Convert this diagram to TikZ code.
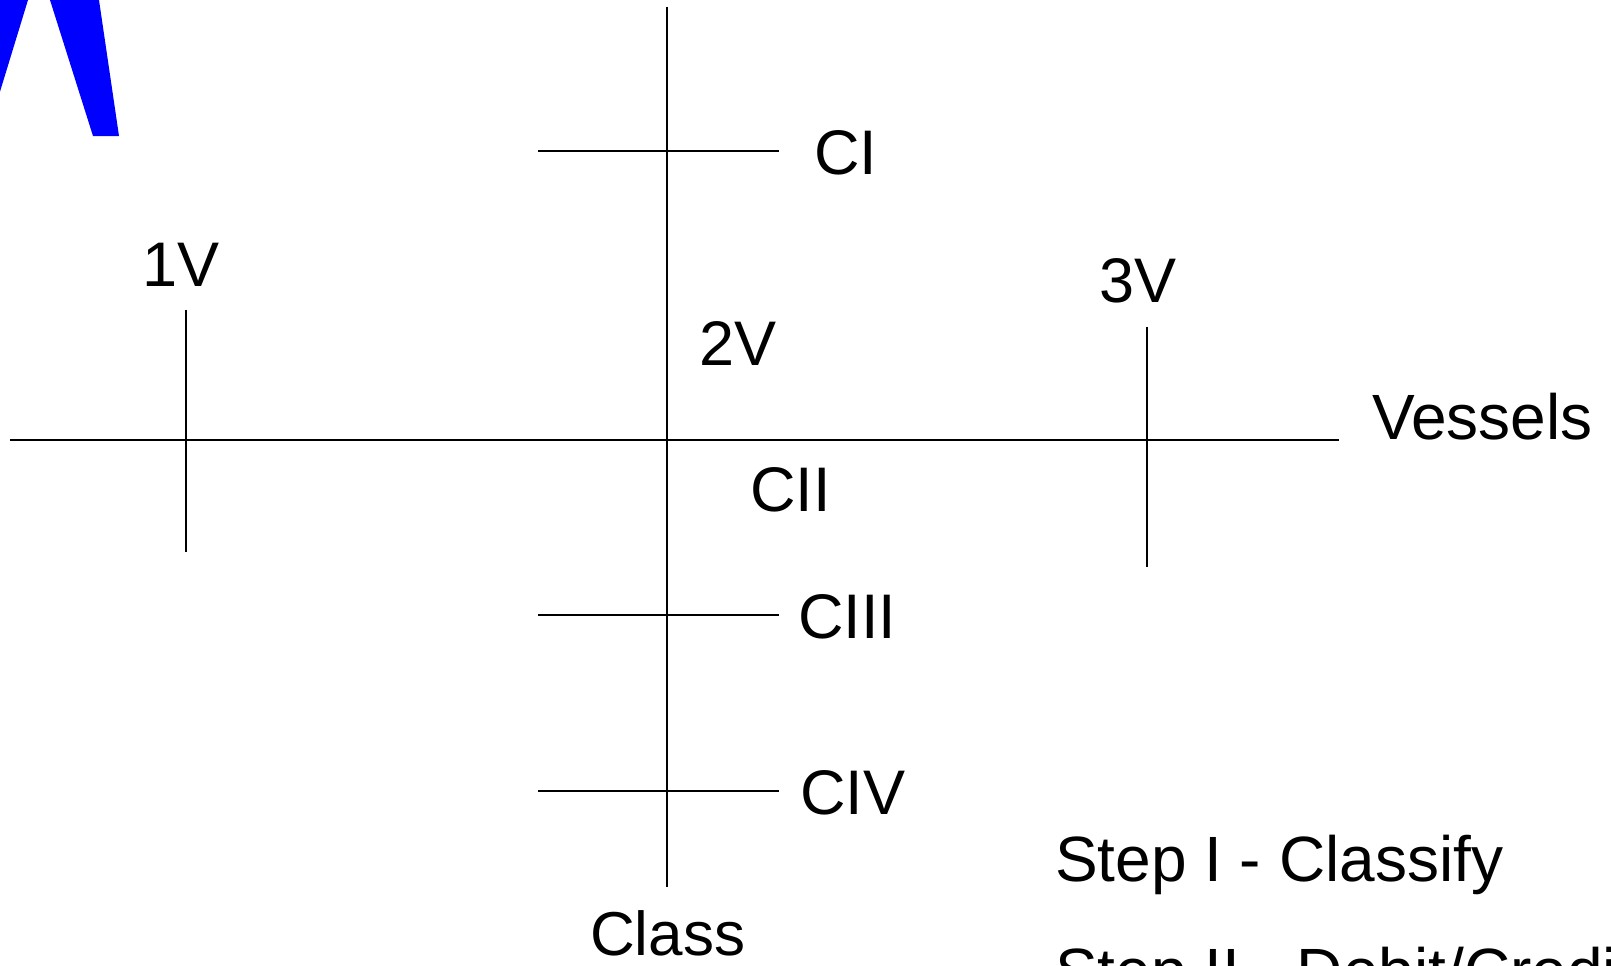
\documentclass[tikz,border=0pt]{standalone}
\usepackage{fontspec}
\setmainfont{Liberation Sans}
\begin{document}
\begin{tikzpicture}[x=1pt,y=-1pt,
  axis/.style={line width=2pt,black},
  lbl/.style={anchor=base west,inner sep=0pt,outer sep=0pt,font=\fontsize{63}{75}\selectfont},
  steptxt/.style={anchor=base west,inner sep=0pt,outer sep=0pt,font=\fontsize{64}{77}\selectfont}]
\useasboundingbox (0,0) rectangle (1611,966);
\begin{scope}
\clip (0,0) rectangle (1611,966);
% blue fragment
\fill[blue] (-5,0) -- (28,0) -- (-5,108) -- cycle;
\fill[blue] (50,0) -- (99,0) -- (119,136) -- (93,136) -- cycle;
% coordinates
\coordinate (hL) at (10,440);
\coordinate (hR) at (1339,440);
\coordinate (vT) at (667,7);
\coordinate (vB) at (667,887);
\coordinate (c1L) at (538,151);
\coordinate (c1R) at (779,151);
\coordinate (c3L) at (538,615);
\coordinate (c3R) at (779,615);
\coordinate (c4L) at (538,791);
\coordinate (c4R) at (779,791);
\coordinate (v1T) at (186,310);
\coordinate (v1B) at (186,552);
\coordinate (v3T) at (1147,327);
\coordinate (v3B) at (1147,567);
% lines
\draw[axis] (hL) -- (hR);
\draw[axis] (vT) -- (vB);
\draw[axis] (c1L) -- (c1R);
\draw[axis] (c3L) -- (c3R);
\draw[axis] (c4L) -- (c4R);
\draw[axis] (v1T) -- (v1B);
\draw[axis] (v3T) -- (v3B);
% labels
\node[lbl] (t1V) at (142,286) {1V};
\node[lbl] (t2V) at (699,365) {2V};
\node[lbl] (t3V) at (1099,302) {3V};
\node[lbl,font=\fontsize{64}{76}\selectfont] (tVes) at (1372,439) {Vessels};
\node[lbl] (tCI) at (814,174) {CI};
\node[lbl] (tCII) at (750,511) {CII};
\node[lbl] (tCIII) at (798,638) {CIII};
\node[lbl] (tCIV) at (800,814) {CIV};
\node[lbl,font=\fontsize{62}{74}\selectfont] (tClass) at (590,955) {Class};
\node[steptxt] (s1) at (1055,881) {Step I - Classify};
\node[steptxt] (s2) at (1055,993) {Step II - Debit/Credit};
\end{scope}
\end{tikzpicture}
\end{document}
